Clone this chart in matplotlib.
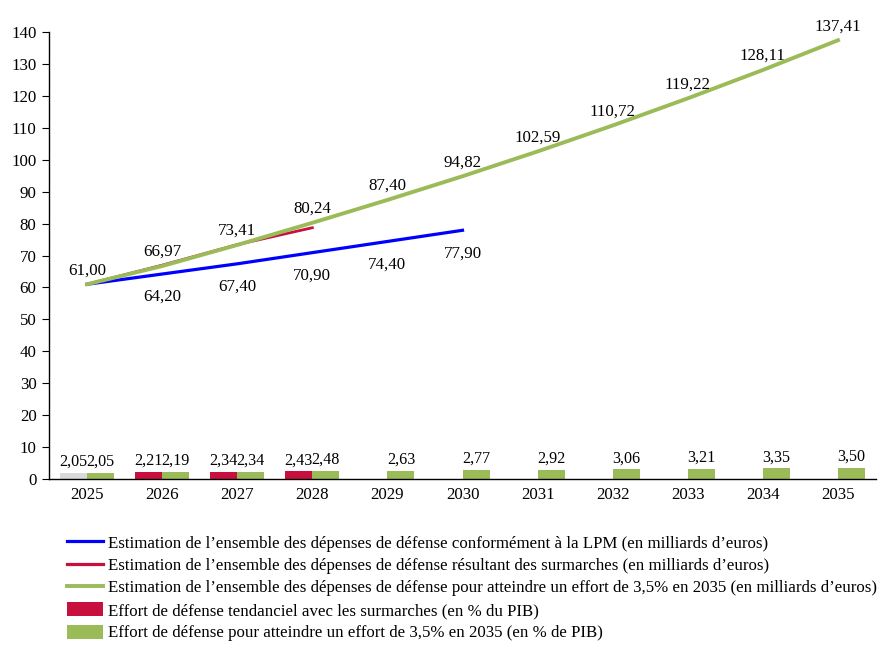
import matplotlib
matplotlib.use("Agg")
from matplotlib import pyplot as plt
from matplotlib.lines import Line2D
from matplotlib.patches import Patch

years = [2025, 2026, 2027, 2028, 2029, 2030, 2031, 2032, 2033, 2034, 2035]

lpm_years = [2025, 2026, 2027, 2028, 2029, 2030]
lpm_values = [61.00, 64.20, 67.40, 70.90, 74.40, 77.90]

surm_years = [2025, 2026, 2027, 2028]
surm_values = [61.00, 66.97, 73.41, 78.70]
surm_labels = [None, "66,97", "73,41", None]

effort_values = [61.00, 66.70, 73.30, 80.24, 87.40, 94.82, 102.59, 110.72, 119.22, 128.11, 137.41]
effort_labels = [None, None, None, "80,24", "87,40", "94,82", "102,59", "110,72", "119,22", "128,11", "137,41"]

pib_tend_years = [2025, 2026, 2027, 2028]
pib_tend_values = [2.05, 2.21, 2.34, 2.43]
pib_tend_colors = ["#D9D9D9", "#C8103E", "#C8103E", "#C8103E"]

pib_effort_values = [2.05, 2.19, 2.34, 2.48, 2.63, 2.77, 2.92, 3.06, 3.21, 3.35, 3.50]

legend_labels = [
    "Estimation de l\u2019ensemble des dépenses de défense conformément à la LPM (en milliards d\u2019euros)",
    "Estimation de l\u2019ensemble des dépenses de défense résultant des surmarches (en milliards d\u2019euros)",
    "Estimation de l\u2019ensemble des dépenses de défense pour atteindre un effort de 3,5% en 2035 (en milliards d\u2019euros)",
    "Effort de défense tendanciel avec les surmarches (en % du PIB)",
    "Effort de défense pour atteindre un effort de 3,5% en 2035 (en % de PIB)",
]

BLUE = "#0000FF"
RED = "#C8103E"
GREEN = "#9BBB59"


def fmt(v):
    return f"{v:.2f}".replace(".", ",")


def main():
    plt.rcParams["font.family"] = ["Liberation Serif", "DejaVu Serif"]
    plt.rcParams["font.size"] = 12.2

    fig = plt.figure(figsize=(8.88, 6.5), dpi=100)
    ax = fig.add_axes([0.0552, 0.263, 0.9313, 0.6878])

    w = 0.36
    ax.bar([y - w / 2 for y in pib_tend_years], pib_tend_values, width=w, align="center",
           color=pib_tend_colors, zorder=2)
    ax.bar([y + w / 2 for y in years], pib_effort_values, width=w, align="center",
           color=GREEN, zorder=2)
    for y, v in zip(pib_tend_years, pib_tend_values):
        ax.annotate(fmt(v), (y - w / 2, v), xytext=(0, 8), textcoords="offset points",
                    ha="center", va="center", fontsize=11.6)
    for y, v in zip(years, pib_effort_values):
        ax.annotate(fmt(v), (y + w / 2, v), xytext=(0, 8), textcoords="offset points",
                    ha="center", va="center", fontsize=11.6)

    ax.plot(lpm_years, lpm_values, color=BLUE, lw=2.3, zorder=3)
    ax.plot(surm_years, surm_values, color=RED, lw=2.0, zorder=3)
    ax.plot(years, effort_values, color=GREEN, lw=2.8, zorder=4)

    for i, (y, v) in enumerate(zip(lpm_years, lpm_values)):
        if i == 0:
            ax.annotate(fmt(v), (y, v), xytext=(0, 10), textcoords="offset points",
                        ha="center", va="center", zorder=5)
        else:
            ax.annotate(fmt(v), (y, v), xytext=(0, -16.5), textcoords="offset points",
                        ha="center", va="center", zorder=5)
    for y, v, lab in zip(surm_years, surm_values, surm_labels):
        if lab:
            ax.annotate(lab, (y, v), xytext=(0, 10), textcoords="offset points",
                        ha="center", va="center", zorder=5)
    for y, v, lab in zip(years, effort_values, effort_labels):
        if lab:
            ax.annotate(lab, (y, v), xytext=(0, 10), textcoords="offset points",
                        ha="center", va="center", zorder=5)

    ax.set_xlim(2024.494, 2035.506)
    ax.set_ylim(0, 140)
    ax.set_yticks(range(0, 141, 10))
    ax.set_xticks(years)
    ax.tick_params(axis="x", length=0, pad=6)
    ax.tick_params(axis="y", length=5, direction="out", pad=4)
    for s in ["top", "right"]:
        ax.spines[s].set_visible(False)
    ax.spines["left"].set_linewidth(1.0)
    ax.spines["bottom"].set_linewidth(1.0)

    handles = [
        Line2D([], [], color=BLUE, lw=2.3),
        Line2D([], [], color=RED, lw=2.3),
        Line2D([], [], color=GREEN, lw=2.8),
        Patch(facecolor=RED, edgecolor="none"),
        Patch(facecolor=GREEN, edgecolor="none"),
    ]
    fig.legend(handles, legend_labels, loc="upper left", bbox_to_anchor=(0.0755, 0.1775),
               frameon=False, handlelength=2.1, handleheight=0.9, handletextpad=0.3,
               labelspacing=0.33, borderpad=0, borderaxespad=0)

    plt.savefig("out.png", dpi=100)


if __name__ == "__main__":
    main()
